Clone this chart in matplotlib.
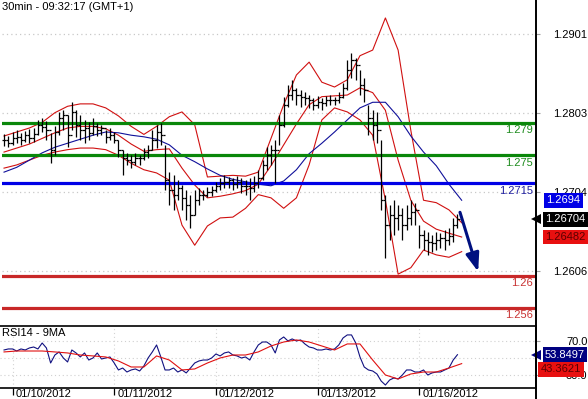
import numpy as np
import matplotlib
matplotlib.use("Agg")
import matplotlib.pyplot as plt
from matplotlib.lines import Line2D

plt.rcParams['font.family'] = ['Liberation Sans', 'DejaVu Sans']

# trading hours since 01/10/2012 00:00 (weekend removed), one bar per hour
hours = np.arange(-2, 106)
high = [1.2776, 1.2774, 1.2779, 1.2781, 1.2778, 1.2780, 1.2783, 1.2784, 1.2794, 1.2796, 1.2793, 1.2778,
        1.2786, 1.2804, 1.2806, 1.2800, 1.2816, 1.2806, 1.2800, 1.2794, 1.2791, 1.2796, 1.2790, 1.2788,
        1.2781, 1.2784, 1.2779, 1.2769, 1.2757, 1.2753, 1.2750, 1.2753, 1.2750, 1.2759, 1.2763, 1.2781,
        1.2788, 1.2790, 1.2763, 1.2729, 1.2725, 1.2719, 1.2713, 1.2707, 1.2701, 1.2707, 1.2709, 1.2707,
        1.2711, 1.2712, 1.2717, 1.2722, 1.2725, 1.2723, 1.2722, 1.2724, 1.2722, 1.2719, 1.2722, 1.2724,
        1.2732, 1.2744, 1.2760, 1.2763, 1.2769, 1.2800, 1.2823, 1.2838, 1.2844, 1.2834, 1.2831, 1.2829,
        1.2825, 1.2821, 1.2824, 1.2821, 1.2824, 1.2825, 1.2823, 1.2829, 1.2840, 1.2869, 1.2877, 1.2871,
        1.2856, 1.2846, 1.2813, 1.2806, 1.2804, 1.2769, 1.2701, 1.2688, 1.2694, 1.2688, 1.2684, 1.2688,
        1.2694, 1.2691, 1.2663, 1.2657, 1.2655, 1.2651, 1.2655, 1.2653, 1.2657, 1.2660, 1.2672, 1.2677]
low = [1.2761, 1.2760, 1.2763, 1.2765, 1.2763, 1.2766, 1.2765, 1.2766, 1.2775, 1.2779, 1.2769, 1.2740,
       1.2750, 1.2775, 1.2781, 1.2760, 1.2781, 1.2773, 1.2769, 1.2765, 1.2769, 1.2775, 1.2774, 1.2775,
       1.2765, 1.2769, 1.2765, 1.2748, 1.2725, 1.2738, 1.2734, 1.2738, 1.2738, 1.2744, 1.2747, 1.2757,
       1.2759, 1.2763, 1.2707, 1.2688, 1.2682, 1.2694, 1.2682, 1.2669, 1.2660, 1.2676, 1.2688, 1.2694,
       1.2698, 1.2699, 1.2704, 1.2707, 1.2709, 1.2709, 1.2707, 1.2709, 1.2703, 1.2701, 1.2694, 1.2704,
       1.2709, 1.2719, 1.2732, 1.2738, 1.2716, 1.2763, 1.2785, 1.2810, 1.2819, 1.2813, 1.2810, 1.2813,
       1.2809, 1.2806, 1.2809, 1.2806, 1.2811, 1.2813, 1.2813, 1.2815, 1.2821, 1.2831, 1.2846, 1.2844,
       1.2825, 1.2816, 1.2775, 1.2769, 1.2765, 1.2682, 1.2622, 1.2645, 1.2651, 1.2657, 1.2645, 1.2657,
       1.2663, 1.2663, 1.2634, 1.2632, 1.2626, 1.2630, 1.2632, 1.2634, 1.2632, 1.2638, 1.2642, 1.2660]
close = [1.2769, 1.2765, 1.2771, 1.2773, 1.2769, 1.2775, 1.2771, 1.2776, 1.2788, 1.2785, 1.2781, 1.2757,
         1.2779, 1.2796, 1.2800, 1.2775, 1.2804, 1.2788, 1.2781, 1.2784, 1.2778, 1.2786, 1.2781, 1.2784,
         1.2773, 1.2775, 1.2769, 1.2757, 1.2747, 1.2744, 1.2742, 1.2747, 1.2747, 1.2754, 1.2757, 1.2769,
         1.2779, 1.2775, 1.2719, 1.2707, 1.2701, 1.2709, 1.2697, 1.2688, 1.2676, 1.2694, 1.2701, 1.2701,
         1.2704, 1.2707, 1.2712, 1.2716, 1.2717, 1.2719, 1.2714, 1.2717, 1.2712, 1.2712, 1.2709, 1.2716,
         1.2722, 1.2738, 1.2750, 1.2757, 1.2757, 1.2788, 1.2813, 1.2825, 1.2831, 1.2825, 1.2823, 1.2821,
         1.2819, 1.2813, 1.2816, 1.2815, 1.2819, 1.2819, 1.2819, 1.2823, 1.2834, 1.2856, 1.2869, 1.2862,
         1.2838, 1.2831, 1.2796, 1.2788, 1.2781, 1.2694, 1.2663, 1.2676, 1.2672, 1.2676, 1.2663, 1.2672,
         1.2679, 1.2682, 1.2651, 1.2645, 1.2642, 1.2641, 1.2645, 1.2647, 1.2645, 1.2650, 1.2663, 1.26704]

# indicator lines, sampled every 3 hours
band_hours = np.arange(-2, 107, 3)
bb_upper = [1.2774, 1.2779, 1.2784, 1.2791, 1.2803, 1.2811, 1.2814, 1.2814, 1.2809, 1.2799, 1.2786, 1.2776,
            1.2786, 1.2798, 1.2804, 1.2788, 1.2723, 1.2724, 1.2725, 1.2724, 1.2729, 1.2771, 1.2813, 1.2850,
            1.2866, 1.2841, 1.2835, 1.2844, 1.2874, 1.2881, 1.2921, 1.2881, 1.2781, 1.2694, 1.2691, 1.2682,
            1.2666]
bb_mid = [1.2754, 1.2759, 1.2764, 1.2771, 1.2778, 1.2784, 1.2786, 1.2786, 1.2783, 1.2775, 1.2764, 1.2755,
          1.2757, 1.2758, 1.2734, 1.2713, 1.2697, 1.2699, 1.2702, 1.2706, 1.2714, 1.2737, 1.2763, 1.2789,
          1.2813, 1.2823, 1.2824, 1.2825, 1.2834, 1.2828, 1.2806, 1.2744, 1.2694, 1.2668, 1.2658, 1.2653,
          1.26482]
bb_lower = [1.2734, 1.2738, 1.2744, 1.2750, 1.2754, 1.2757, 1.2759, 1.2759, 1.2757, 1.2750, 1.2740, 1.2732,
            1.2728, 1.2719, 1.2663, 1.2638, 1.2662, 1.2672, 1.2673, 1.2684, 1.2701, 1.2697, 1.2684, 1.2697,
            1.2738, 1.2794, 1.2809, 1.2804, 1.2794, 1.2775, 1.2694, 1.2602, 1.2610, 1.2632, 1.2626, 1.2623,
            1.2630]
ma_blue = [1.2729, 1.2735, 1.2744, 1.2753, 1.2760, 1.2765, 1.2770, 1.2775, 1.2779, 1.2778, 1.2775, 1.2773,
           1.2770, 1.2763, 1.2750, 1.2742, 1.2733, 1.2725, 1.2720, 1.2717, 1.2714, 1.2712, 1.2718, 1.2732,
           1.2752, 1.2765, 1.2779, 1.2794, 1.2809, 1.2816, 1.2816, 1.2798, 1.2774, 1.2754, 1.2737, 1.2714,
           1.2694]

rsi = [59.4, 60.6, 60.6, 58.2, 60.6, 59.4, 61.8, 62.9, 60.6, 67.6, 61.8, 44.1,
       53.5, 57.1, 50.0, 45.3, 59.4, 55.9, 51.2, 55.9, 47.6, 50.0, 55.9, 48.8,
       50.0, 51.2, 44.1, 35.9, 38.2, 33.5, 35.9, 37.1, 34.7, 40.6, 50.0, 57.1,
       65.3, 51.2, 35.9, 35.9, 38.2, 33.5, 35.9, 32.4, 38.2, 44.1, 46.5, 47.6,
       47.6, 50.0, 54.7, 52.4, 55.9, 57.1, 53.5, 52.4, 50.0, 51.2, 47.6, 57.1,
       65.3, 68.8, 68.8, 65.3, 55.9, 71.2, 74.7, 70.0, 72.4, 70.0, 71.2, 66.5,
       62.9, 61.8, 59.4, 59.4, 60.6, 59.4, 60.6, 65.3, 73.5, 77.1, 77.1, 67.6,
       51.2, 39.4, 35.9, 34.7, 31.2, 22.9, 18.2, 24.1, 26.5, 25.3, 30.0, 35.9,
       35.9, 33.5, 33.5, 35.9, 30.0, 32.4, 33.5, 33.5, 35.9, 38.2, 47.6, 53.8497]
rsi_ma = [57.1, 58.2, 58.2, 58.2, 57.1, 55.9, 53.5, 52.4, 51.2, 46.5, 39.4, 39.4,
          52.4, 47.6, 35.9, 37.1, 44.1, 50.0, 53.5, 53.5, 57.1, 64.1, 68.8, 71.2,
          68.8, 64.1, 59.4, 66.5, 66.5, 47.6, 30.0, 25.3, 31.2, 33.5, 33.5, 38.2,
          43.3621]

day_hours = [0, 24, 48, 72, 96]
day_labels = ["01/10/2012", "01/11/2012", "01/12/2012", "01/13/2012", "01/16/2012"]

levels = [1.279, 1.275, 1.2715, 1.26, 1.256]
level_labels = ["1.279", "1.275", "1.2715", "1.26", "1.256"]
level_colors = ["#0a870a", "#0a870a", "#0000e6", "#c82828", "#c82828"]
level_text = ["#1e8c1e", "#1e8c1e", "#2020a0", "#c83232", "#c83232"]

price_ticks = [1.2901, 1.2803, 1.2704, 1.2606]
rsi_ticks = [70.0, 30.0]

# forecast arrow (hour, price)
arrow_from = (105.6, 1.2679)
arrow_to = (109.9, 1.2605)

W, H = 588, 399


def box(x0, y0, x1, y1):
    return [x0 / W, 1 - y1 / H, (x1 - x0) / W, (y1 - y0) / H]


fig = plt.figure(figsize=(W / 100, H / 100), dpi=100)
fig.patch.set_facecolor("white")
ax = fig.add_axes(box(2, 10, 536, 322))
rx = fig.add_axes(box(0, 326, 536, 388))

# ── price panel ──────────────────────────────────────────────
ax.set_xlim(-2.478, 123.54)
ax.set_ylim(1.25424, 1.29309)
for s in ("top", "left", "bottom"):
    ax.spines[s].set_visible(False)
ax.spines["right"].set_visible(False)
ax.set_xticks([])
ax.yaxis.tick_right()
ax.set_yticks(price_ticks)
ax.set_yticklabels([f"{t:.4f}" for t in price_ticks])
ax.tick_params(axis="y", length=3, color="#a0a0a0", pad=34, labelsize=8)
for lab in ax.get_yticklabels():
    lab.set_ha("right")
for t in price_ticks:
    ax.axhline(t, color="#c8c8c8", lw=0.9, ls=(0, (1, 2.5)), zorder=1)

for lvl, c, lab, tc in zip(levels, level_colors, level_labels, level_text):
    ax.axhline(lvl, color=c, lw=2.3, zorder=3)
    ax.annotate(lab, xy=(1, lvl), xycoords=("axes fraction", "data"),
                xytext=(-2, -1.6), textcoords="offset points",
                ha="right", va="top", fontsize=8, color=tc)

ax.plot(band_hours, bb_upper, color="#d01010", lw=0.8, zorder=2)
ax.plot(band_hours, bb_mid, color="#d01010", lw=0.8, zorder=2)
ax.plot(band_hours, bb_lower, color="#d01010", lw=0.8, zorder=2)
ax.plot(band_hours, ma_blue, color="#10109a", lw=0.8, zorder=2)

opens = np.r_[close[0], close[:-1]]
ax.vlines(hours, low, high, color="black", lw=0.9, zorder=4)
ax.hlines(close, hours, hours + 0.5, color="black", lw=0.9, zorder=4)
ax.hlines(opens, hours - 0.5, hours, color="black", lw=0.9, zorder=4)

ax.annotate("", xy=arrow_to, xytext=arrow_from,
            arrowprops=dict(arrowstyle="-|>,head_width=0.4,head_length=1.1",
                            color="#001080", lw=2.2, mutation_scale=10,
                            shrinkA=0, shrinkB=0), zorder=6)


def value_tag(a, val, txt, fc, tc, dx, dy=0, pointer=False):
    a.annotate(txt, xy=(1, val), xycoords=("axes fraction", "data"),
               xytext=(dx, dy), textcoords="offset points", ha="left", va="center",
               fontsize=8, color=tc, zorder=10, annotation_clip=False,
               bbox=dict(boxstyle="square,pad=0.22", fc=fc, ec="none"))
    if pointer:
        a.annotate("", xy=(1, val), xycoords=("axes fraction", "data"),
                   xytext=(3.2, dy), textcoords="offset points", zorder=10,
                   annotation_clip=False,
                   arrowprops=dict(arrowstyle="-", lw=0))
        a.plot([1.0], [val], marker="<", ms=7.5, color=fc, clip_on=False,
               transform=a.get_yaxis_transform(), zorder=10,
               markeredgewidth=0)


value_tag(ax, ma_blue[-1], "1.2694", "#0000e6", "white", 7.5)
value_tag(ax, close[-1], "1.26704", "black", "white", 6.5, pointer=True)
value_tag(ax, bb_mid[-1], "1.26482", "#e81010", "#5a0000", 6.5)

# ── RSI panel ────────────────────────────────────────────────
rx.set_xlim(-2.95, 123.54)
rx.set_ylim(14.7, 87.6)
rx.spines["left"].set_visible(False)
for s in ("top", "bottom", "right"):
    rx.spines[s].set_linewidth(1.2)
rx.yaxis.tick_right()
rx.set_yticks(rsi_ticks)
rx.set_yticklabels([f"{t:.1f}" for t in rsi_ticks])
rx.tick_params(axis="y", length=3, color="#a0a0a0", pad=34, labelsize=8)
for lab in rx.get_yticklabels():
    lab.set_ha("right")
rx.set_xticks(day_hours)
rx.set_xticklabels([])
rx.tick_params(axis="x", length=5, width=0.9, direction="out")
for d, lab in zip(day_hours, day_labels):
    rx.axvline(d, color="#d4d4d4", lw=0.8, ls=(0, (1, 2.5)), zorder=1)
    rx.annotate(lab, xy=(d, 0), xycoords=("data", "axes fraction"),
                xytext=(2.2, -1), textcoords="offset points",
                ha="left", va="top", fontsize=8, annotation_clip=False)
for g in (70, 50, 30):
    rx.axhline(g, color="#d0d0d0", lw=0.8, ls=(0, (1, 2.5)), zorder=1)

rx.plot(hours, rsi, color="#101080", lw=0.8, zorder=3)
rx.plot(band_hours, rsi_ma, color="#e01010", lw=0.8, zorder=3)

value_tag(rx, rsi[-1], "53.8497", "#000080", "white", 6.5, pointer=True)
value_tag(rx, rsi_ma[-1], "43.3621", "#e81010", "#5a0000", 3.5, dy=-4)

fig.text(2 / W, 1 - 7 / H, "30min - 09:32:17 (GMT+1)", fontsize=8, va="center", ha="left")
fig.text(2 / W, 1 - 333 / H, "RSI14 - 9MA", fontsize=8, va="center", ha="left")
fig.add_artist(Line2D([536 / W, 536 / W], [0, 1], transform=fig.transFigure,
                      color="black", lw=1.4))

fig.savefig("out.png", dpi=100)
